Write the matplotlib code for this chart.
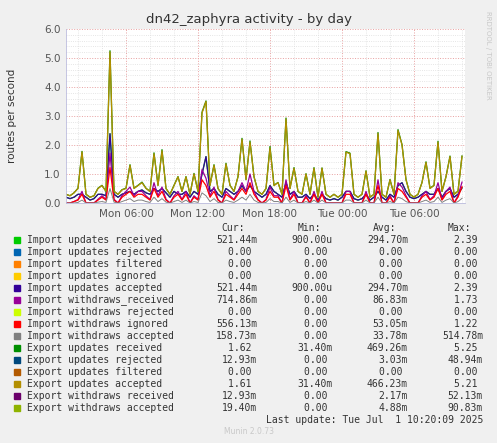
import matplotlib
matplotlib.use("Agg")
import matplotlib.pyplot as plt
import numpy as np

# 20-minute samples starting Mon 01:00
export_accepted = [
    0.3, 0.25, 0.35, 0.5, 1.76, 0.3, 0.2, 0.25, 0.5, 0.6,
    0.4, 5.21, 0.4, 0.3, 0.45, 0.5, 1.3, 0.5, 0.6, 0.7,
    0.5, 0.4, 1.7, 0.6, 1.8, 0.5, 0.3, 0.6, 0.9, 0.4,
    0.9, 0.3, 1.0, 0.4, 3.1, 3.5, 0.6, 1.3, 0.5, 0.3,
    1.35, 0.6, 0.4, 0.9, 2.2, 0.8, 2.1, 0.9, 0.4, 0.3,
    0.5, 1.9, 0.6, 0.7, 0.3, 2.9, 0.5, 1.2, 0.4, 0.3,
    1.0, 0.3, 1.2, 0.2, 1.2, 0.3, 0.2, 0.3, 0.2, 0.3,
    1.75, 1.7, 0.3, 0.2, 0.3, 1.1, 0.2, 0.3, 2.4, 0.3,
    0.2, 0.8, 0.3, 2.5, 2.0, 0.8, 0.3, 0.2, 0.3, 0.7,
    1.4, 0.5, 0.6, 2.1, 0.4, 0.9, 1.6, 0.3, 0.4, 1.61,
]
export_rejected = [
    0, 0, 0, 0.01, 0.02, 0, 0, 0, 0.01, 0.01,
    0, 0.04, 0, 0, 0.01, 0.01, 0.02, 0.01, 0.01, 0.02,
    0.01, 0, 0.03, 0.01, 0.04, 0, 0, 0.01, 0.01, 0,
    0.01, 0, 0.02, 0, 0.03, 0.02, 0.01, 0.02, 0, 0,
    0.02, 0.01, 0, 0.01, 0.03, 0.01, 0.04, 0.01, 0, 0,
    0, 0.05, 0.01, 0.01, 0, 0.03, 0, 0.02, 0, 0,
    0.01, 0, 0.02, 0, 0.01, 0, 0, 0, 0, 0,
    0.02, 0.02, 0, 0, 0, 0.01, 0, 0, 0.03, 0,
    0, 0.01, 0, 0.03, 0.02, 0.01, 0, 0, 0, 0.01,
    0.02, 0.01, 0.01, 0.03, 0, 0.01, 0.02, 0, 0.01, 0.01,
]
import_accepted = [
    0.2, 0.15, 0.2, 0.3, 0.3, 0.2, 0.1, 0.15, 0.3, 0.3,
    0.25, 2.39, 0.3, 0.2, 0.3, 0.35, 0.4, 0.3, 0.4, 0.45,
    0.35, 0.3, 0.5, 0.4, 0.5, 0.35, 0.2, 0.4, 0.3, 0.3,
    0.4, 0.2, 0.4, 0.3, 1.0, 1.6, 0.4, 0.5, 0.3, 0.2,
    0.5, 0.4, 0.3, 0.4, 0.6, 0.4, 0.6, 0.4, 0.3, 0.2,
    0.3, 0.6, 0.4, 0.3, 0.2, 0.7, 0.3, 0.4, 0.2, 0.2,
    0.3, 0.15, 0.3, 0.1, 0.3, 0.15, 0.1, 0.15, 0.1, 0.2,
    0.4, 0.4, 0.15, 0.1, 0.15, 0.3, 0.1, 0.2, 0.4, 0.2,
    0.1, 0.3, 0.2, 0.6, 0.7, 0.4, 0.2, 0.15, 0.2, 0.3,
    0.4, 0.3, 0.3, 0.5, 0.2, 0.4, 0.5, 0.2, 0.3, 0.52,
]
withdraws_ignored = [
    0, 0, 0.05, 0.1, 0.3, 0, 0, 0, 0.1, 0.2,
    0.1, 1.22, 0.1, 0, 0.2, 0.3, 0.4, 0.2, 0.3, 0.3,
    0.2, 0.1, 0.5, 0.2, 0.4, 0.1, 0, 0.2, 0.3, 0.1,
    0.3, 0, 0.2, 0.1, 0.8, 0.6, 0.2, 0.4, 0.1, 0,
    0.3, 0.2, 0.1, 0.3, 0.5, 0.3, 0.7, 0.3, 0.1, 0,
    0.1, 0.4, 0.2, 0.2, 0, 0.6, 0.1, 0.3, 0, 0,
    0.2, 0, 0.3, 0, 0.3, 0, 0, 0, 0, 0,
    0.3, 0.3, 0, 0, 0, 0.3, 0, 0, 0.6, 0,
    0, 0.2, 0, 0.5, 0.4, 0.2, 0, 0, 0, 0.2,
    0.3, 0.1, 0.2, 0.5, 0.1, 0.3, 0.4, 0, 0.2, 0.56,
]
withdraws_accepted = [
    0, 0, 0, 0.02, 0.1, 0, 0, 0, 0.03, 0.05,
    0.02, 0.5, 0.03, 0, 0.05, 0.1, 0.15, 0.05, 0.1, 0.1,
    0.05, 0.02, 0.2, 0.05, 0.15, 0.03, 0, 0.05, 0.1, 0.02,
    0.1, 0, 0.05, 0.02, 0.35, 0.25, 0.05, 0.15, 0.02, 0,
    0.1, 0.05, 0.02, 0.1, 0.2, 0.1, 0.3, 0.1, 0.02, 0,
    0.02, 0.15, 0.05, 0.05, 0, 0.2, 0.02, 0.1, 0, 0,
    0.05, 0, 0.1, 0, 0.1, 0, 0, 0, 0, 0,
    0.1, 0.1, 0, 0, 0, 0.1, 0, 0, 0.2, 0,
    0, 0.05, 0, 0.2, 0.15, 0.05, 0, 0, 0, 0.05,
    0.1, 0.02, 0.05, 0.2, 0.02, 0.1, 0.15, 0, 0.05, 0.16,
]

names = [
    "Import updates received", "Import updates rejected", "Import updates filtered",
    "Import updates ignored", "Import updates accepted", "Import withdraws_received",
    "Import withdraws rejected", "Import withdraws ignored", "Import withdraws accepted",
    "Export updates received", "Export updates rejected", "Export updates filtered",
    "Export updates accepted", "Export withdraws received", "Export withdraws accepted",
]
colors = [
    "#00CC00", "#0066B3", "#FF8000", "#FFCC00", "#330099", "#990099", "#CCFF00",
    "#FF0000", "#808080", "#008F00", "#00487D", "#B35A00", "#B38F00", "#6B006B", "#8FB300",
]
cur = ["521.44m", "0.00", "0.00", "0.00", "521.44m", "714.86m", "0.00", "556.13m",
       "158.73m", "1.62", "12.93m", "0.00", "1.61", "12.93m", "19.40m"]
mins = ["900.00u", "0.00", "0.00", "0.00", "900.00u", "0.00", "0.00", "0.00",
        "0.00", "31.40m", "0.00", "0.00", "31.40m", "0.00", "0.00"]
avgs = ["294.70m", "0.00", "0.00", "0.00", "294.70m", "86.83m", "0.00", "53.05m",
        "33.78m", "469.26m", "3.03m", "0.00", "466.23m", "2.17m", "4.88m"]
maxs = ["2.39", "0.00", "0.00", "0.00", "2.39", "1.73", "0.00", "1.22",
        "514.78m", "5.25", "48.94m", "0.00", "5.21", "52.13m", "90.83m"]

tick_hours = [5, 11, 17, 23, 29]
tick_labels = ["Mon 06:00", "Mon 12:00", "Mon 18:00", "Tue 00:00", "Tue 06:00"]

W, H = 497, 443
fig = plt.figure(figsize=(W / 100, H / 100), dpi=100, facecolor="#F0F0F0")
ax = fig.add_axes([66 / W, 1 - 203 / H, 399 / W, 174 / H], facecolor="white")

t = np.arange(len(export_accepted)) / 3.0
imp_acc = np.array(import_accepted)
w_ign = np.array(withdraws_ignored)
w_acc = np.array(withdraws_accepted)
exp_acc = np.array(export_accepted)
exp_rcv = exp_acc + np.array(export_rejected)

ax.plot(t, imp_acc, color=colors[0], lw=0.9)
ax.plot(t, imp_acc, color=colors[4], lw=0.9)
ax.plot(t, w_ign + w_acc, color=colors[5], lw=0.9)
ax.plot(t, w_ign, color=colors[7], lw=0.9)
ax.plot(t, w_acc, color=colors[8], lw=0.7)
ax.plot(t, exp_rcv, color=colors[9], lw=0.9)
ax.plot(t, exp_acc, color=colors[12], lw=0.9)

ax.set_xlim(0, 33.25)
ax.set_ylim(0, 6.0)
ax.set_yticks(np.arange(0, 6.01, 1.0))
ax.set_yticklabels([f"{v:.1f}" for v in np.arange(0, 6.01, 1.0)])
ax.set_yticks(np.arange(0, 6.01, 0.2), minor=True)
ax.set_xticks(tick_hours)
ax.set_xticklabels(tick_labels)
ax.set_xticks(np.arange(1, 33.3, 2), minor=True)
ax.grid(which="minor", color="#DDDDDD", linestyle=":", lw=0.6)
ax.grid(which="major", color="#E8A0A0", linestyle=":", lw=0.7)
ax.set_axisbelow(True)
ax.tick_params(which="both", length=0, labelsize=7.5, colors="#555555", pad=4)
for s in ["top", "right"]:
    ax.spines[s].set_visible(False)
ax.spines["left"].set_color("#BBBBDD")
ax.spines["bottom"].set_color("#BBBBDD")
ax.spines["left"].set_linewidth(0.6)
ax.spines["bottom"].set_linewidth(0.6)

fig.text(0.5, 1 - 19 / H, "dn42_zaphyra activity - by day", ha="center", va="center",
         fontsize=9.5, color="#333333")
fig.text(12 / W, 1 - 116 / H, "routes per second", rotation=90, ha="center", va="center",
         fontsize=7.5, color="#333333")
fig.text(488 / W, 1 - 55 / H, "RRDTOOL / TOBI OETIKER", rotation=270, ha="center", va="center",
         fontsize=5, color="#C8C8C8")

mono = "DejaVu Sans Mono"
fs = 7
tc = "#333333"


def val(s):
    return s if s[-1] in "mu" else s + " "


y0 = 228
for x, lab in [(257, "Cur:"), (333, "Min:"), (408, "Avg:"), (483, "Max:")]:
    fig.text((x - 12) / W, 1 - y0 / H, lab, ha="right", va="center", fontsize=fs,
             family=mono, color=tc)
for i, n in enumerate(names):
    y = 1 - (y0 + 12 * (i + 1)) / H
    fig.patches.append(plt.Rectangle((14 / W, y - 3 / H), 6 / W, 6 / H,
                                     transform=fig.transFigure, color=colors[i]))
    fig.text(27 / W, y, n, ha="left", va="center", fontsize=fs, family=mono, color=tc)
    for x, col in [(257, cur), (333, mins), (408, avgs), (483, maxs)]:
        fig.text(x / W, y, val(col[i]), ha="right", va="center", fontsize=fs,
                 family=mono, color=tc)
fig.text(483 / W, 1 - 420 / H, "Last update: Tue Jul  1 10:20:09 2025", ha="right",
         va="center", fontsize=fs, family=mono, color=tc)
fig.text(0.5, 1 - 432 / H, "Munin 2.0.73", ha="center", va="center", fontsize=5.5,
         color="#C8C8C8")

fig.savefig("out.png", dpi=100, facecolor=fig.get_facecolor())
